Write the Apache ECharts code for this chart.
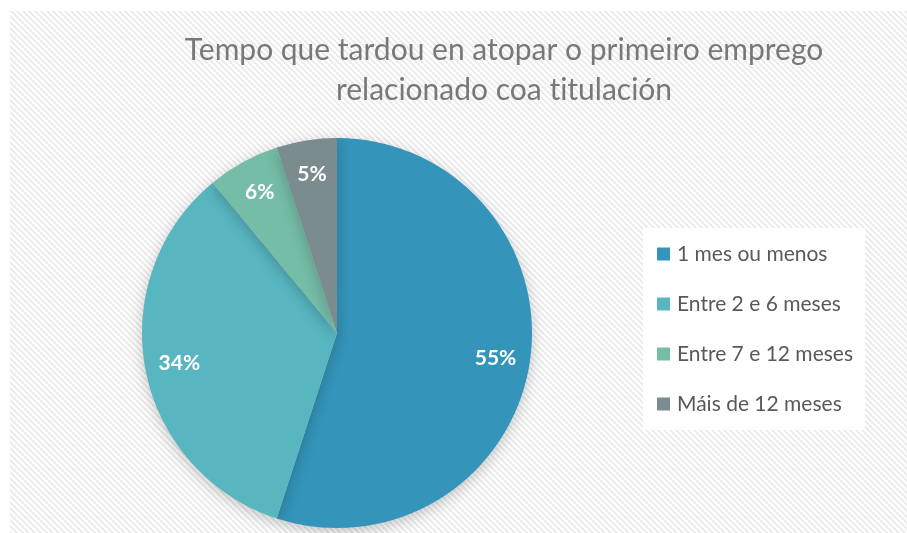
<!DOCTYPE html>
<html>
<head>
<meta charset="utf-8">
<script src="https://cdn.jsdelivr.net/npm/echarts@6/dist/echarts.min.js"></script>
<style>
  html, body { margin: 0; padding: 0; background: #fff; }
  #chart { width: 907px; height: 533px; }
</style>
</head>
<body>
<div id="chart"></div>
<script>
const categories = ['1 mes ou menos', 'Entre 2 e 6 meses', 'Entre 7 e 12 meses', 'Máis de 12 meses'];
const values = [55, 34, 6, 5];
const colors = ['#3494BA', '#58B6C0', '#75BDA7', '#7A8C8E'];
// ZWNJ keeps Lato from fusing "ti" into a ligature
const titleText = 'Tempo que tardou en atopar o primeiro emprego\nrelacionado coa t\u200Citulación';

// diagonal hatch for the chart area
const pat = document.createElement('canvas');
pat.width = 6; pat.height = 6;
const ctx = pat.getContext('2d');
ctx.fillStyle = '#ffffff';
ctx.fillRect(0, 0, 6, 6);
ctx.strokeStyle = '#ebebeb';
ctx.lineWidth = 2;
for (let k = -6; k <= 6; k += 6) {
    ctx.beginPath();
    ctx.moveTo(k - 1, -1);
    ctx.lineTo(k + 7, 7);
    ctx.stroke();
}

const pieData = categories.map((name, i) => ({ name: name, value: values[i] }));

const myChart = echarts.init(document.getElementById('chart'));
const option = {
    backgroundColor: '#ffffff',
    color: colors,
    title: {
        text: titleText,
        left: 504,
        top: 30,
        padding: 0,
        textAlign: 'center',
        textStyle: {
            fontFamily: 'Lato',
            fontSize: 30,
            fontWeight: 'normal',
            color: '#787878',
            lineHeight: 40
        }
    },
    legend: {
        orient: 'vertical',
        left: 643,
        top: 228,
        data: categories,
        backgroundColor: '#ffffff',
        padding: [15, 12, 15, 14],
        itemWidth: 13,
        itemHeight: 13,
        itemGap: 28,
        icon: 'rect',
        textStyle: {
            fontFamily: 'Lato',
            fontSize: 21,
            color: '#595959',
            lineHeight: 22,
            padding: [0, 0, 0, 2]
        }
    },
    graphic: [{
        type: 'rect',
        z: -10,
        silent: true,
        shape: { x: 10, y: 11, width: 897, height: 522 },
        style: { fill: { image: pat, repeat: 'repeat' } }
    }],
    series: [
        {
            name: 'Tempo',
            type: 'pie',
            center: [337, 333],
            radius: 195,
            startAngle: 90,
            data: pieData,
            label: { show: false },
            labelLine: { show: false },
            itemStyle: {
                shadowBlur: 14,
                shadowColor: 'rgba(0,0,0,0.22)',
                shadowOffsetY: 4
            }
        },
        {
            name: 'labels',
            type: 'pie',
            center: [337, 333],
            radius: [120, 195],
            startAngle: 90,
            silent: true,
            data: pieData,
            itemStyle: { color: 'transparent' },
            labelLine: { show: false },
            label: {
                show: true,
                position: 'inside',
                formatter: '{d}%',
                fontFamily: 'Lato',
                fontSize: 21,
                fontWeight: 'bold',
                color: '#ffffff'
            }
        }
    ]
};
option && myChart.setOption(option);
</script>
</body>
</html>
